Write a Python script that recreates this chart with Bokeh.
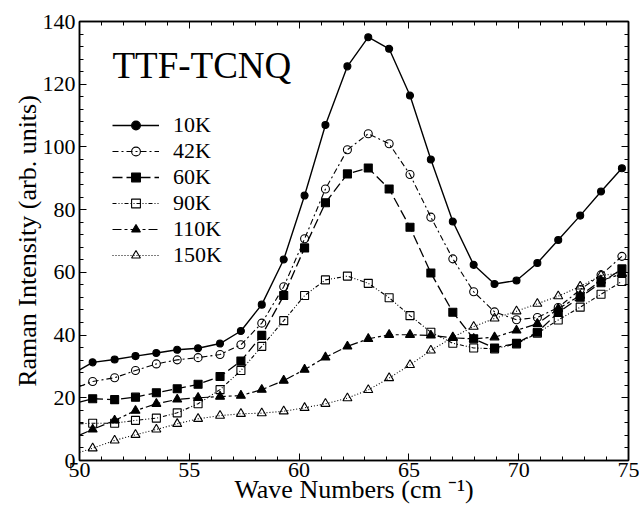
from bokeh.plotting import figure
from bokeh.models import (LinearAxis, Range1d, Legend, LegendItem, Label,
                          SingleIntervalTicker)
from bokeh.embed import file_html
from bokeh.resources import INLINE

# ---------------- data ----------------
wavenumber = [50.6, 51.6, 52.55, 53.5, 54.45, 55.4, 56.4, 57.35, 58.3, 59.3,
              60.25, 61.2, 62.2, 63.15, 64.1, 65.05, 66.0, 67.0, 67.95, 68.9,
              69.9, 70.85, 71.8, 72.8, 73.75, 74.7]

i_10K = [31.3, 32.2, 33.3, 34.3, 35.3, 35.8, 37.3, 41.3, 49.7, 64.1,
         84.5, 107.0, 125.7, 135.0, 131.3, 116.4, 96.0, 76.2, 62.4, 56.3,
         57.4, 63.0, 70.3, 78.1, 85.8, 93.2]
i_42K = [25.2, 26.4, 28.7, 30.8, 32.1, 32.8, 33.8, 36.9, 43.8, 55.4,
         70.7, 86.6, 99.1, 104.2, 101.0, 91.2, 77.6, 64.3, 53.8, 47.4,
         44.9, 45.6, 48.8, 54.5, 59.2, 65.1]
i_60K = [19.7, 19.4, 20.2, 21.6, 22.9, 24.3, 26.8, 31.7, 39.9, 52.6,
         67.8, 82.2, 91.4, 93.3, 86.6, 74.4, 59.8, 47.3, 38.8, 35.9,
         37.4, 40.9, 47.2, 52.1, 56.7, 61.1]
i_90K = [11.9, 11.9, 12.8, 13.5, 15.2, 18.1, 22.6, 28.7, 36.4, 44.6,
         52.6, 57.6, 58.8, 56.5, 51.9, 46.2, 40.9, 37.4, 35.9, 35.6,
         37.2, 40.6, 44.8, 48.9, 53.0, 57.1]
i_110K = [9.9, 12.8, 15.9, 18.1, 19.5, 20.0, 20.4, 20.7, 22.6, 25.5,
          29.0, 32.9, 36.4, 38.8, 40.1, 40.1, 39.9, 39.1, 38.8, 39.3,
          41.5, 43.6, 48.4, 52.6, 57.4, 59.5]
i_150K = [3.9, 6.4, 8.2, 9.9, 11.7, 13.3, 14.3, 14.9, 15.1, 15.7,
          16.8, 18.1, 19.9, 22.5, 26.3, 30.5, 35.1, 39.3, 42.7, 45.3,
          47.6, 50.0, 52.4, 55.5, 59.0, 59.8]

# value of each curve where it enters the frame at the left edge (x = 50)
edge_x = 50.0
edge_values = {"10K": 28.9, "42K": 23.6, "60K": 18.6, "90K": 11.7,
               "110K": 8.1, "150K": 2.6}

labels = ["10K", "42K", "60K", "90K", "110K", "150K"]
series = [i_10K, i_42K, i_60K, i_90K, i_110K, i_150K]

x_ticks = [50, 55, 60, 65, 70, 75]
y_ticks = [0, 20, 40, 60, 80, 100, 120, 140]

# ---------------- styles ----------------
styles = {
    "10K":  dict(dash="solid",        lw=1.4, marker="circle",   size=7, fill="black"),
    "42K":  dict(dash="6 3 2 3",      lw=1.1, marker="circle",   size=8, fill=None),
    "60K":  dict(dash="10 4",         lw=1.3, marker="square",   size=8, fill="black"),
    "90K":  dict(dash="4 2 1 2 1 2",  lw=1.1, marker="square",   size=8, fill=None),
    "110K": dict(dash="9 3 3 3",      lw=1.2, marker="triangle", size=9, fill="black"),
    "150K": dict(dash="1 2",          lw=1.1, marker="triangle", size=9, fill=None),
}

FONT = "Liberation Serif"

p = figure(width=639, height=508, output_backend="svg", toolbar_location=None,
           x_range=Range1d(50, 75), y_range=Range1d(0, 140),
           min_border_left=79, min_border_right=11, min_border_top=21,
           min_border_bottom=48, background_fill_color="white",
           border_fill_color="white")

p.xgrid.visible = False
p.ygrid.visible = False
p.outline_line_color = "black"
p.outline_line_width = 1.5


def style_axis(ax, show_labels=True):
    ax.major_tick_in = 7
    ax.major_tick_out = 0
    ax.minor_tick_in = 4
    ax.minor_tick_out = 0
    ax.axis_line_color = "black"
    ax.axis_line_width = 1.5
    ax.major_tick_line_color = "black"
    ax.minor_tick_line_color = "black"
    ax.major_tick_line_width = 1
    ax.minor_tick_line_width = 1
    ax.major_label_text_font = FONT
    ax.major_label_text_color = "black"
    ax.axis_label_text_font = FONT
    ax.axis_label_text_font_style = "normal"
    ax.axis_label_text_color = "black"
    if show_labels:
        ax.major_label_text_font_size = "22px"
        ax.axis_label_text_font_size = "26px"
    else:
        ax.major_label_text_font_size = "1px"
        ax.major_label_standoff = 0


p.xaxis.ticker = SingleIntervalTicker(interval=5, num_minor_ticks=5)
p.yaxis.ticker = SingleIntervalTicker(interval=20, num_minor_ticks=5)
style_axis(p.xaxis[0])
style_axis(p.yaxis[0])
p.xaxis.axis_label = "Wave Numbers (cm \u207b\u00b9)"
p.yaxis.axis_label = "Raman Intensity (arb. units)"
p.xaxis.major_label_standoff = 2
p.xaxis.axis_label_standoff = -5
p.yaxis.major_label_standoff = 4
p.yaxis.axis_label_standoff = -2

right = LinearAxis(ticker=SingleIntervalTicker(interval=20, num_minor_ticks=5),
                   major_label_overrides={v: "" for v in y_ticks})
style_axis(right, show_labels=False)
p.add_layout(right, "right")
top = LinearAxis(ticker=SingleIntervalTicker(interval=5, num_minor_ticks=5),
                 major_label_overrides={v: "" for v in x_ticks})
style_axis(top, show_labels=False)
p.add_layout(top, "above")

items = []
for lab, ys in zip(labels, series):
    st = styles[lab]
    lx = [edge_x] + wavenumber
    ly = [edge_values[lab]] + ys
    r_line = p.line(lx, ly, line_color="black", line_width=st["lw"],
                    line_dash=st["dash"])
    r_mark = p.scatter(wavenumber, ys, marker=st["marker"], size=st["size"],
                       line_color="black", line_width=1.1,
                       fill_color=st["fill"] if st["fill"] else None)
    items.append(LegendItem(label=lab, renderers=[r_line, r_mark]))

legend = Legend(items=items, location=(33, 192), orientation="vertical",
                glyph_width=47, glyph_height=22, label_height=22,
                label_standoff=14, spacing=-1, padding=0, margin=0,
                border_line_alpha=0, background_fill_alpha=0,
                label_text_font=FONT, label_text_font_size="22px",
                label_text_color="black", label_text_baseline="middle")
p.add_layout(legend, "center")

title = Label(x=51.5, y=125.9, text="TTF-TCNQ", text_font=FONT,
              text_font_size="37px", text_color="black",
              text_baseline="alphabetic", text_align="left")
p.add_layout(title)

open("out.html", "w").write(file_html(p, INLINE))
